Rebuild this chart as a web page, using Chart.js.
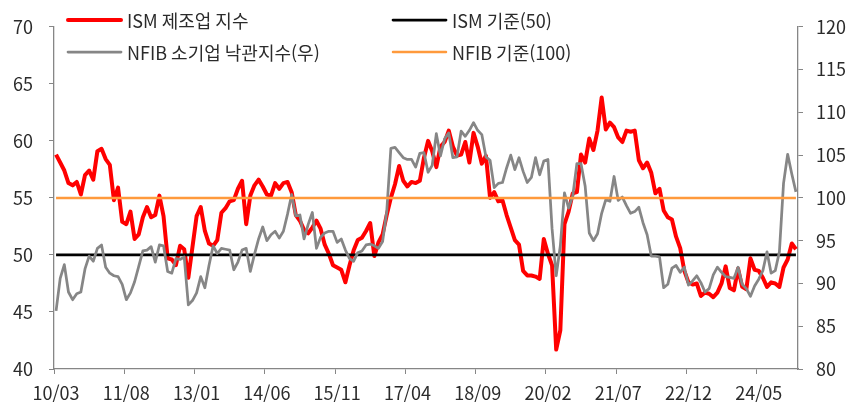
<!DOCTYPE html>
<html lang="ko">
<head>
<meta charset="UTF-8">
<script src="https://cdn.jsdelivr.net/npm/chart.js@4.4.1/dist/chart.umd.min.js"></script>
<style>
  body { margin: 0; background: #fff; }
  #box { width: 859px; height: 403px; position: relative; }
</style>
</head>
<body>
<div id="box"><canvas id="chart"></canvas></div>
<script>
// meses 2010/03 ~ 2025/02
const meses = [];
for (let a = 2010; a <= 2025; a++) {
    for (let m = 1; m <= 12; m++) {
        if ((a === 2010 && m < 3) || (a === 2025 && m > 2)) continue;
        meses.push(String(a).slice(2) + '/' + String(m).padStart(2, '0'));
    }
}
const etiquetasX = ['10/03', '11/08', '13/01', '14/06', '15/11', '17/04', '18/09', '20/02', '21/07', '22/12', '24/05'];

const ism = [
    58.8, 58.1, 57.4, 56.3, 56.1, 56.4, 55.3, 57.0, 57.4, 56.6,
    59.1, 59.3, 58.4, 57.9, 54.8, 55.9, 52.9, 52.7, 53.8, 51.4, 51.8, 53.3,
    54.2, 53.3, 53.5, 55.2, 53.4, 49.7, 49.6, 49.1, 50.8, 50.5, 48.0, 50.7,
    53.4, 54.2, 52.1, 51.0, 50.8, 51.3, 53.7, 54.1, 54.7, 54.8, 55.8, 56.5,
    52.7, 55.2, 56.1, 56.6, 56.0, 55.3, 55.2, 56.3, 55.8, 56.3, 56.4, 55.5,
    53.5, 53.0, 52.2, 51.9, 52.4, 53.0, 52.3, 50.9, 50.1, 49.1, 48.9, 48.7,
    47.6, 49.1, 50.4, 51.3, 51.5, 52.1, 52.8, 49.9, 51.1, 51.8, 53.5, 55.0,
    56.2, 57.8, 56.5, 56.0, 56.4, 56.3, 56.5, 58.5, 60.0, 59.1, 57.7, 59.5,
    59.9, 60.9, 59.5, 58.7, 58.8, 59.9, 58.1, 60.7, 59.5, 58.0, 58.7, 55.0,
    55.5, 54.7, 54.8, 53.5, 52.4, 51.3, 50.9, 48.6, 48.2, 48.2, 48.1, 47.9,
    51.4, 50.1, 49.1, 41.7, 43.4, 52.7, 53.8, 55.4, 55.5, 58.8, 58.1, 60.2,
    59.2, 60.9, 63.8, 61.0, 61.6, 61.2, 60.3, 59.9, 60.9, 60.8, 60.9, 58.3,
    57.6, 58.1, 57.2, 55.4, 55.8, 53.9, 53.3, 53.1, 51.6, 50.6, 48.6, 47.6,
    47.4, 47.5, 46.4, 46.7, 46.6, 46.3, 46.7, 47.5, 49.0, 47.1, 46.9, 48.8,
    47.2, 47.0, 49.7, 48.7, 48.6, 48.0, 47.2, 47.6, 47.5, 47.2, 48.9, 49.6,
    51.0, 50.5
];
const nfib = [
    86.8, 90.6, 92.2, 89.0, 88.1, 88.8, 89.0, 91.7, 93.2, 92.6,
    94.1, 94.5, 91.9, 91.2, 90.9, 90.8, 89.9, 88.1, 88.9, 90.2, 92.0, 93.8,
    93.9, 94.3, 92.5, 94.5, 94.4, 91.4, 91.2, 92.9, 92.8, 93.1, 87.5, 88.0,
    88.9, 90.8, 89.5, 92.1, 94.4, 93.5, 94.1, 94.0, 93.9, 91.6, 92.5, 93.9,
    94.1, 91.4, 93.4, 95.2, 96.6, 95.0, 95.7, 96.1, 95.3, 96.1, 98.1, 100.4,
    97.9, 98.0, 95.2, 96.9, 98.3, 94.1, 95.4, 95.9, 96.1, 96.1, 94.8, 95.2,
    93.9, 92.9, 92.6, 93.6, 93.8, 94.5, 94.6, 94.4, 94.1, 94.9, 98.4, 105.8,
    105.9, 105.3, 104.7, 104.5, 104.5, 103.6, 105.2, 105.3, 103.0, 103.8, 107.5, 104.9,
    106.9, 107.6, 104.7, 104.8, 107.8, 107.2, 107.9, 108.8, 107.9, 107.4, 104.8, 104.4,
    101.2, 101.7, 101.8, 103.5, 105.0, 103.3, 104.7, 103.1, 101.8, 102.4, 104.7, 102.7,
    104.3, 104.5, 96.4, 90.9, 94.4, 100.6, 98.8, 100.2, 104.0, 104.0, 101.4, 95.9,
    95.0, 95.8, 98.2, 99.8, 99.6, 102.5, 99.7, 100.1, 99.1, 98.2, 98.4, 98.9,
    97.1, 95.7, 93.2, 93.2, 93.1, 89.5, 89.9, 91.8, 92.1, 91.3, 91.9, 89.8,
    90.3, 90.9, 90.1, 89.0, 89.4, 91.0, 91.9, 91.3, 90.8, 90.7, 90.6, 91.9,
    89.9, 89.4, 88.5, 89.7, 90.5, 91.5, 93.7, 91.2, 91.5, 93.7, 101.7, 105.1,
    102.8, 100.7
];
const ismBase = 50;
const nfibBase = 100;

const fuente = '"Noto Sans CJK KR", "Noto Sans", sans-serif';
const gris = '#868686';
const texto = '#2b2b2b';

//leyenda a mano, dos columnas
const leyenda = {
    id: 'leyenda',
    afterDraw(chart) {
        const { ctx } = chart;
        const items = [
            { i: 0, x: 68, y: 20 },
            { i: 1, x: 393, y: 20 },
            { i: 2, x: 68, y: 52 },
            { i: 3, x: 393, y: 52 }
        ];
        ctx.save();
        ctx.font = '18px ' + fuente;
        ctx.textBaseline = 'middle';
        ctx.textAlign = 'left';
        items.forEach(it => {
            const ds = chart.data.datasets[it.i];
            ctx.beginPath();
            ctx.lineWidth = ds.borderWidth;
            ctx.strokeStyle = ds.borderColor;
            ctx.lineCap = 'round';
            ctx.moveTo(it.x, it.y);
            ctx.lineTo(it.x + 53, it.y);
            ctx.stroke();
            ctx.fillStyle = texto;
            ctx.fillText(ds.label, it.x + 59, it.y + 1);
        });
        ctx.restore();
    }
};

const data = {
    labels: meses,
    datasets: [{
        label: 'ISM 제조업 지수',
        data: ism,
        yAxisID: 'y',
        borderColor: '#ff0000',
        borderWidth: 4,
        order: 4
    }, {
        label: 'ISM 기준(50)',
        data: meses.map(() => ismBase),
        yAxisID: 'y',
        borderColor: '#000000',
        borderWidth: 2.75,
        order: 3
    }, {
        label: 'NFIB 소기업 낙관지수(우)',
        data: nfib,
        yAxisID: 'y1',
        borderColor: gris,
        borderWidth: 2.75,
        order: 2
    }, {
        label: 'NFIB 기준(100)',
        data: meses.map(() => nfibBase),
        yAxisID: 'y1',
        borderColor: '#ff9a3c',
        borderWidth: 2.5,
        order: 1
    }]
};

const config = {
    type: 'line',
    data,
    options: {
        responsive: true,
        maintainAspectRatio: false,
        animation: false,
        layout: { padding: { top: 17, left: 0, right: 0, bottom: 0 } },
        elements: {
            point: { radius: 0 },
            line: { tension: 0, borderJoinStyle: 'round' }
        },
        plugins: {
            legend: { display: false },
            tooltip: { enabled: false }
        },
        scales: {
            x: {
                type: 'category',
                offset: true,
                afterFit: (s) => { s.height = 34; },
                grid: {
                    offset: true,
                    drawOnChartArea: false,
                    tickLength: 5,
                    tickColor: (c) => (c.index % 17 === 0 ? gris : 'rgba(0,0,0,0)')
                },
                border: { color: gris, width: 1.3 },
                ticks: {
                    autoSkip: false,
                    maxRotation: 0,
                    padding: 8,
                    color: texto,
                    font: { family: fuente, size: 18 },
                    callback: function (v, i) {
                        const l = meses[i];
                        return etiquetasX.includes(l) ? l : '';
                    }
                }
            },
            y: {
                position: 'left',
                min: 40,
                max: 70,
                afterFit: (s) => { s.width = 54; },
                grid: { drawOnChartArea: false, tickLength: 5, tickColor: gris },
                border: { color: gris, width: 1.3 },
                ticks: {
                    stepSize: 5,
                    padding: 16,
                    color: texto,
                    font: { family: fuente, size: 18 }
                }
            },
            y1: {
                position: 'right',
                min: 80,
                max: 120,
                afterFit: (s) => { s.width = 61; },
                grid: { drawOnChartArea: false, tickLength: 5, tickColor: gris },
                border: { color: gris, width: 1.3 },
                ticks: {
                    stepSize: 5,
                    padding: 13,
                    color: texto,
                    font: { family: fuente, size: 18 }
                }
            }
        }
    },
    plugins: [leyenda]
};

const chart = document.getElementById('chart');
const myChart = new Chart(chart, config);
</script>
</body>
</html>
